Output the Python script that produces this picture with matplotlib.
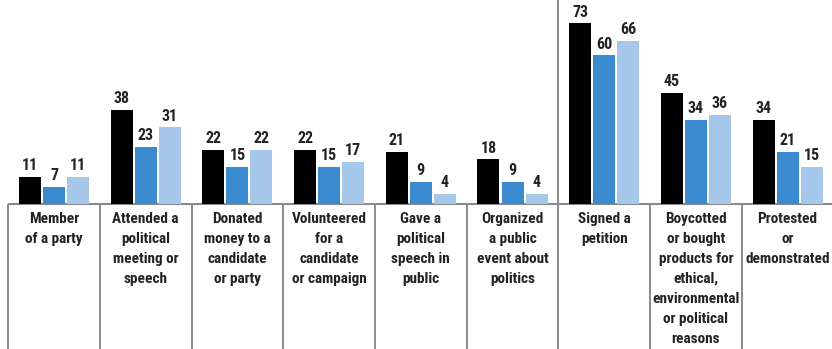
import matplotlib.pyplot as plt
from matplotlib import font_manager
import numpy as np

# activities (category labels, line breaks as in the original)
categories = [
    "Member\nof a party",
    "Attended a\npolitical\nmeeting or\nspeech",
    "Donated\nmoney to a\ncandidate\nor party",
    "Volunteered\nfor a\ncandidate\nor campaign",
    "Gave a\npolitical\nspeech in\npublic",
    "Organized\na public\nevent about\npolitics",
    "Signed a\npetition",
    "Boycotted\nor bought\nproducts for\nethical,\nenvironmental\nor political\nreasons",
    "Protested\nor\ndemonstrated",
]

# three series, percent
series_black = [11, 38, 22, 22, 21, 18, 73, 45, 34]
series_blue = [7, 23, 15, 15, 9, 9, 60, 34, 21]
series_light = [11, 31, 22, 17, 4, 4, 66, 36, 15]

colors = ["#000000", "#3a8bd0", "#a5c7ea"]
txt_color = "#222222"
line_color = "#8a8a8a"


def condensed_file():
    # look for any installed bold condensed/narrow face
    prefs = ["Roboto Condensed", "Liberation Sans Narrow", "Open Sans Condensed",
             "Noto Sans", "DejaVu Sans", "Roboto", "Open Sans"]
    found = []
    for f in font_manager.fontManager.ttflist:
        name = f.fname.lower()
        narrow = ("condensed" in name or "narrow" in name
                  or f.stretch in ("condensed", "semi-condensed"))
        w = f.weight if isinstance(f.weight, int) else 400
        if narrow and ("bold" in name or w >= 600) and "extra" not in name \
                and "semi" not in name and "italic" not in name \
                and "oblique" not in name:
            rank = prefs.index(f.name) if f.name in prefs else len(prefs)
            found.append((rank, f.fname))
    found.sort()
    return found[0][1] if found else None


fname = condensed_file()
if fname:
    lab_font = dict(fontproperties=font_manager.FontProperties(fname=fname, size=11))
    num_font = dict(fontproperties=font_manager.FontProperties(fname=fname, size=11.5))
else:
    lab_font = dict(family="Liberation Sans", fontweight="bold", fontsize=9.5)
    num_font = dict(family="Liberation Sans", fontweight="bold", fontsize=11)

fig = plt.figure(figsize=(8.32, 3.49), dpi=100)
ax = fig.add_axes([0, 0, 1, 1])

x = np.arange(len(categories))
w = 0.24
step = 0.262
for k, vals in enumerate([series_black, series_blue, series_light]):
    pos = x + (k - 1) * step
    ax.bar(pos, vals, width=w, color=colors[k], zorder=2)
    for p, v in zip(pos, vals):
        ax.text(p, v + 1.5, str(v), ha="center", va="bottom",
                color=txt_color, **num_font)

ax.set_xlim(-0.589, 8.484)
ax.set_ylim(-58.6, 82.4)

# baseline and separators
ax.plot([-0.5, 8.484], [0, 0], color=line_color, lw=1.5, zorder=1,
        solid_capstyle="butt")
for i in range(len(categories)):
    top = 82.4 if i == 6 else 0
    ax.plot([i - 0.5, i - 0.5], [-58.6, top], color=line_color, lw=1.4,
            zorder=1, solid_capstyle="butt")

# category labels, one text per line so the white box only hides the
# separator where a line is wide
line_step = 8.08
for i, lab in enumerate(categories):
    for j, part in enumerate(lab.split("\n")):
        ax.text(i, -7.7 - j * line_step, part, ha="center", va="baseline",
                color=txt_color, zorder=3,
                bbox=dict(facecolor="white", edgecolor="none", pad=0.5),
                **lab_font)

ax.axis("off")
fig.savefig("out.png", dpi=100)
